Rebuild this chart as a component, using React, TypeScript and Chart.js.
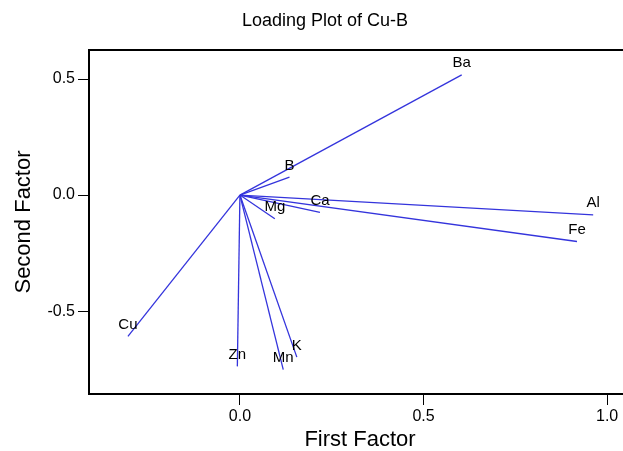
import React, { useEffect, useRef } from "react";
import { Chart, registerables } from "chart.js";

Chart.register(...registerables);

const chartTitle = "Loading Plot of Cu-B";
const xAxisTitle = "First Factor";
const yAxisTitle = "Second Factor";

const variables = ["Ba", "B", "Ca", "Mg", "Al", "Fe", "Cu", "Zn", "Mn", "K"];
const firstFactor = [0.604, 0.135, 0.218, 0.095, 0.962, 0.918, -0.305, -0.007, 0.118, 0.155];
const secondFactor = [0.518, 0.077, -0.075, -0.102, -0.085, -0.2, -0.609, -0.738, -0.752, -0.698];
const origin = { x: 0, y: 0 };

const xTicks = [0, 0.5, 1.0];
const yTicks = [-0.5, 0, 0.5];
const xRange = [-0.411, 1.065];
const yRange = [-0.857, 0.625];

const FONT = "'Liberation Sans', Arial, Helvetica, sans-serif";
const LINE_COLOR = "#3434dc";

const framePlugin = {
  id: "frameAndLabels",
  afterDatasetsDraw(chart: any) {
    const { ctx, chartArea } = chart;
    ctx.save();
    ctx.font = `15px ${FONT}`;
    ctx.fillStyle = "#000";
    ctx.textAlign = "center";
    ctx.textBaseline = "bottom";
    chart.data.datasets.forEach((ds: any, i: number) => {
      const meta = chart.getDatasetMeta(i);
      const pt = meta.data[1];
      if (pt) ctx.fillText(ds.label, pt.x, pt.y - 4);
    });
    // frame: right side lies beyond the visible window, as in the reference
    const rightEdge = Math.max(chartArea.right, chart.width) + 5;
    ctx.strokeStyle = "#000";
    ctx.lineWidth = 2;
    ctx.beginPath();
    ctx.moveTo(rightEdge, chartArea.top);
    ctx.lineTo(chartArea.left, chartArea.top);
    ctx.lineTo(chartArea.left, chartArea.bottom);
    ctx.lineTo(rightEdge, chartArea.bottom);
    ctx.stroke();
    ctx.restore();
  },
};

export default function App() {
  const ref = useRef<HTMLCanvasElement | null>(null);

  useEffect(() => {
    if (!ref.current) return;
    const datasets = variables.map((name, i) => ({
      label: name,
      data: [origin, { x: firstFactor[i], y: secondFactor[i] }],
      showLine: true,
      borderColor: LINE_COLOR,
      borderWidth: 1.3,
      pointRadius: 0,
      fill: false,
    }));
    const chart = new Chart(ref.current, {
      type: "scatter",
      data: { datasets },
      plugins: [framePlugin],
      options: {
        animation: false,
        responsive: false,
        devicePixelRatio: 1,
        layout: { padding: 0 },
        plugins: {
          legend: { display: false },
          tooltip: { enabled: false },
          title: {
            display: true,
            text: chartTitle,
            color: "#000",
            font: { family: FONT, size: 18, weight: "normal" },
            padding: { top: 10, bottom: 18.4 },
          },
        },
        scales: {
          x: {
            type: "linear",
            min: xRange[0],
            max: xRange[1],
            afterBuildTicks: (s: any) => {
              s.ticks = xTicks.map((v) => ({ value: v }));
            },
            afterFit: (s: any) => {
              s.height = 57;
              s.paddingLeft = 0;
              s.paddingRight = 19;
            },
            ticks: {
              color: "#000",
              font: { family: FONT, size: 16 },
              padding: 2,
              maxRotation: 0,
              callback: (v: any) => Number(v).toFixed(1),
            },
            grid: {
              drawOnChartArea: false,
              drawTicks: true,
              tickLength: 11,
              color: "#000",
            },
            border: { display: false },
            title: {
              display: true,
              text: xAxisTitle,
              color: "#000",
              font: { family: FONT, size: 22 },
              padding: { top: 0, bottom: -2 },
            },
          },
          y: {
            type: "linear",
            min: yRange[0],
            max: yRange[1],
            afterBuildTicks: (s: any) => {
              s.ticks = yTicks.map((v) => ({ value: v }));
            },
            afterFit: (s: any) => {
              s.width = 89;
              s.paddingTop = 0;
              s.paddingBottom = 0;
            },
            ticks: {
              color: "#000",
              font: { family: FONT, size: 16 },
              padding: 3,
              callback: (v: any) => Number(v).toFixed(1),
            },
            grid: {
              drawOnChartArea: false,
              drawTicks: true,
              tickLength: 11,
              color: "#000",
            },
            border: { display: false },
            title: {
              display: true,
              text: yAxisTitle,
              color: "#000",
              font: { family: FONT, size: 22 },
              padding: { top: 11, bottom: 0 },
            },
          },
        },
      },
    } as any);
    return () => chart.destroy();
  }, []);

  return (
    <div
      style={{
        position: "fixed",
        left: 0,
        top: 0,
        width: 623,
        height: 451,
        overflow: "hidden",
        background: "#fff",
      }}
    >
      <canvas ref={ref} width={650} height={451} style={{ display: "block" }} />
    </div>
  );
}
